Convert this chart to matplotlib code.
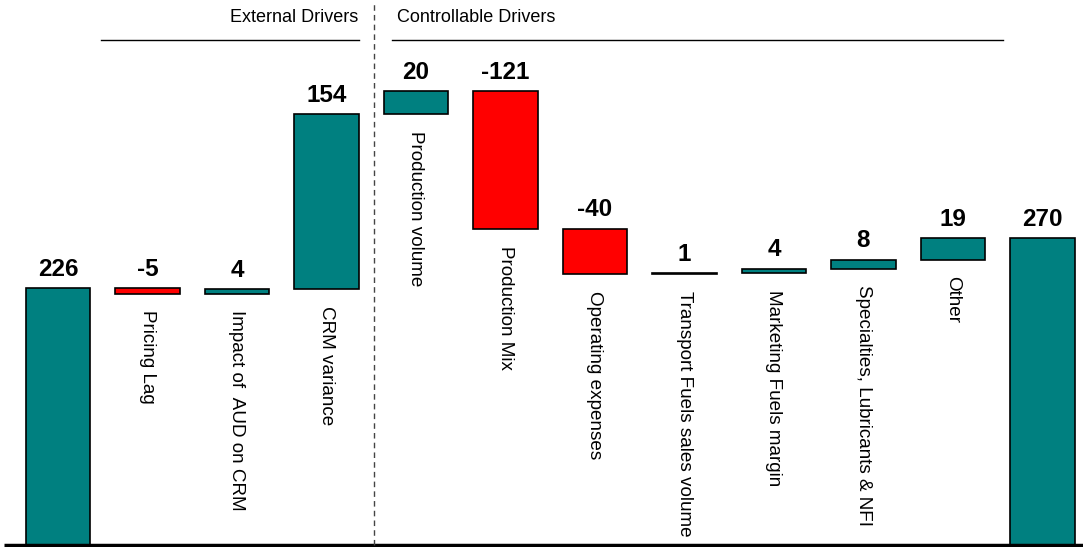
import numpy as np
import matplotlib
matplotlib.use("Agg")
import matplotlib.pyplot as plt

plt.rcParams['font.family'] = ['Liberation Sans', 'DejaVu Sans']

# EBIT bridge: start, drivers, end
start_value = 226
end_value = 270
driver_labels = ["Pricing Lag", "Impact of  AUD on CRM", "CRM variance",
                 "Production volume", "Production Mix", "Operating expenses",
                 "Transport Fuels sales volume", "Marketing Fuels margin",
                 "Specialties, Lubricants & NFI", "Other"]
driver_values = [-5, 4, 154, 20, -121, -40, 1, 4, 8, 19]
n_external = 3

TEAL = "#008080"
RED = "#ff0000"

W, H = 1083, 547
fig = plt.figure(figsize=(W / 100, H / 100), dpi=100)
ax = fig.add_axes([0, 2 / H, 1, 545 / H])
px_per_unit = 1.137
ax.set_ylim(0, 545 / px_per_unit)
ax.set_xlim(-58 / 89.5, (W - 58) / 89.5)
ax.axis("off")

bar_w = 0.72
edge = dict(edgecolor="black", linewidth=1.2)
val_fs = 17.5
lab_fs = 13.6

# start bar
ax.bar(0, start_value, width=bar_w, color=TEAL, **edge)
ax.annotate(str(start_value), (0, start_value), xytext=(0, 9), textcoords="offset points",
            ha="center", va="baseline", fontsize=val_fs, fontweight="bold")

running = start_value
for i, (lab, v) in enumerate(zip(driver_labels, driver_values), start=1):
    lo, hi = (running, running + v) if v >= 0 else (running + v, running)
    ax.bar(i, hi - lo, bottom=lo, width=bar_w, color=TEAL if v >= 0 else RED, **edge)
    ax.annotate(str(v), (i, hi), xytext=(0, 9), textcoords="offset points",
                ha="center", va="baseline", fontsize=val_fs, fontweight="bold")
    ax.annotate(lab, (i, lo), xytext=(0, -12), textcoords="offset points",
                ha="center", va="top", rotation=270, fontsize=lab_fs)
    running += v

# end bar
k = len(driver_values) + 1
ax.bar(k, end_value, width=bar_w, color=TEAL, **edge)
ax.annotate(str(end_value), (k, end_value), xytext=(0, 9), textcoords="offset points",
            ha="center", va="baseline", fontsize=val_fs, fontweight="bold")

# baseline
ax.plot([-0.6, 11.5], [0, 0], color="black", lw=2.5, clip_on=False, solid_capstyle="butt")

# divider between external and controllable drivers
sep = n_external + 0.53
ax.plot([sep, sep], [0, 476], color="#444444", lw=1, linestyle=(0, (4, 3)), clip_on=False)

y_line = (545 - 40) / px_per_unit
y_head = (545 - 18) / px_per_unit
ax.plot([0.48, 3.36], [y_line, y_line], color="black", lw=1)
ax.plot([3.73, 10.56], [y_line, y_line], color="black", lw=1)
ax.text(3.36, y_head, "External Drivers", ha="right", va="center", fontsize=13)
ax.text(3.79, y_head, "Controllable Drivers", ha="left", va="center", fontsize=13)

fig.savefig("out.png", dpi=100)
